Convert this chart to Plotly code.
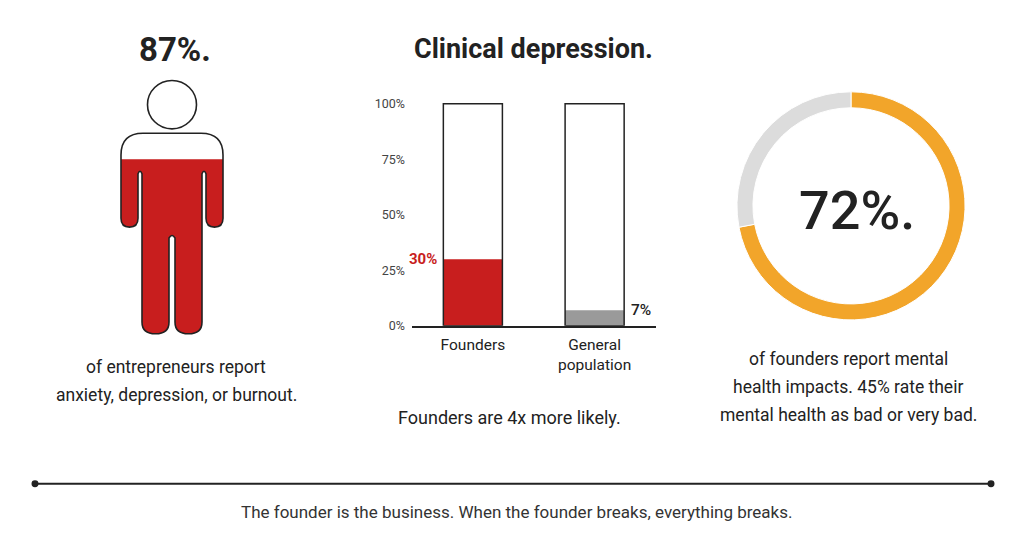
import plotly.graph_objects as go

# ---- data ----
person_pct = 87
bar_categories = ["Founders", "General<br>population"]
bar_values = [30, 7]
bar_value_labels = ["30%", "7%"]
bar_ticks = [0, 25, 50, 75, 100]
bar_tick_text = ["0%", "25%", "50%", "75%", "100%"]
donut_labels = ["Impacted", "Other"]
donut_values = [72, 28]

title_left = "87%."
title_mid = "Clinical depression."
donut_text = "72%."
caption_left = ["of entrepreneurs report", "anxiety, depression, or burnout."]
caption_mid = ["Founders are 4x more likely."]
caption_right = ["of founders report mental", "health impacts. 45% rate their", "mental health as bad or very bad."]
footer = "The founder is the business. When the founder breaks, everything breaks."

W, H = 1024, 555
RED = "#C81E1E"
GREY_BAR = "#9A9A9A"
ORANGE = "#F2A52A"
RING_GREY = "#DCDCDC"
INK = "#222222"
FONT = "Roboto"


def person_path(y_top, rounded):
    # silhouette in pixel coords (y grows downward)
    L, R, top, r = 121, 223, 135, 22
    armpit, hand, crotch, foot = 173, 230, 238, 338
    if rounded:
        p = f"M {L},{top + r} Q {L},{top} {L + r},{top} L {R - r},{top} Q {R},{top} {R},{top + r} "
    else:
        p = f"M {L},{y_top} L {R},{y_top} "
    p += (f"L {R},{hand - 9} Q {R},{hand} {R - 8.5},{hand} Q 206,{hand} 206,{hand - 9} "
          f"L 206,{armpit + 3} Q 204,{armpit - 2} 202,{armpit + 3} "
          f"L 202,{foot - 12} Q 202,{foot} 188.5,{foot} Q 175,{foot} 175,{foot - 12} "
          f"L 175,{crotch + 3} Q 172,{crotch - 2} 169,{crotch + 3} "
          f"L 169,{foot - 12} Q 169,{foot} 155.5,{foot} Q 142,{foot} 142,{foot - 12} "
          f"L 142,{armpit + 3} Q 140,{armpit - 2} 138,{armpit + 3} "
          f"L 138,{hand - 9} Q 138,{hand} 129.5,{hand} Q {L},{hand} {L},{hand - 9} Z")
    return p


fig = go.Figure()

# bar chart: value bars first, then the 100% outline boxes on top
fig.add_trace(go.Bar(x=bar_categories, y=bar_values, width=0.485,
                     marker=dict(color=[RED, GREY_BAR], line=dict(width=0)),
                     hoverinfo="skip", showlegend=False))
fig.add_trace(go.Bar(x=bar_categories, y=[100] * len(bar_categories), width=0.485,
                     marker=dict(color="rgba(0,0,0,0)", line=dict(color=INK, width=1.5)),
                     hoverinfo="skip", showlegend=False))

# donut
fig.add_trace(go.Pie(labels=donut_labels, values=donut_values, hole=0.86, sort=False,
                     direction="clockwise", rotation=0, textinfo="none",
                     marker=dict(colors=[ORANGE, RING_GREY], line=dict(color="white", width=1)),
                     domain=dict(x=[735.5 / W, 966.5 / W], y=[1 - 324 / H, 1 - 93 / H]),
                     showlegend=False, hoverinfo="skip"))

# the second (invisible) axis pair works in pixel units for the icon, rules and free text
fig.update_layout(
    xaxis=dict(domain=[412 / W, 655.5 / W], range=[-0.5, 1.5], showline=True, linecolor=INK,
               linewidth=1.5, showgrid=False, zeroline=False, ticks="", ticklabelstandoff=4,
               tickfont=dict(family=FONT, size=15.5, color=INK), fixedrange=True),
    yaxis=dict(domain=[1 - 330 / H, 1 - 96 / H], range=[0, 104], tickvals=bar_ticks,
               ticktext=bar_tick_text, showgrid=False, zeroline=False, showline=False,
               ticklabelstandoff=6, tickfont=dict(family=FONT, size=12.5, color="#444"),
               fixedrange=True),
    xaxis2=dict(domain=[0, 1], range=[0, W], visible=False, anchor="y2", fixedrange=True),
    yaxis2=dict(domain=[0, 1], range=[H, 0], visible=False, anchor="x2", fixedrange=True),
    barmode="overlay",
    width=W, height=H, autosize=False,
    margin=dict(l=0, r=0, t=0, b=0),
    paper_bgcolor="white", plot_bgcolor="rgba(0,0,0,0)",
    font=dict(family=FONT, color=INK),
)

# person icon filled to person_pct of the body height
body_top, body_bottom = 135, 338
fill_top = body_bottom - person_pct / 100 * (body_bottom - body_top)
fig.add_shape(type="path", xref="x2", yref="y2", path=person_path(fill_top, False),
              fillcolor=RED, line=dict(width=0))
fig.add_shape(type="path", xref="x2", yref="y2", path=person_path(body_top, True),
              fillcolor="rgba(0,0,0,0)", line=dict(color=INK, width=1.6))
fig.add_shape(type="circle", xref="x2", yref="y2", x0=172 - 24.5, x1=172 + 24.5,
              y0=106 - 24.5, y1=106 + 24.5, fillcolor="white", line=dict(color=INK, width=1.6))

# footer rule with end dots
fig.add_shape(type="line", xref="x2", yref="y2", x0=35, x1=991, y0=490, y1=490,
              line=dict(color=INK, width=2))
for cx in (35, 991):
    fig.add_shape(type="circle", xref="x2", yref="y2", x0=cx - 3.5, x1=cx + 3.5,
                  y0=490 - 3.5, y1=490 + 3.5, fillcolor=INK, line=dict(width=0))


def text(x, y, s, size, color=INK, weight="normal", ref="pixel", **kw):
    fig.add_annotation(x=x, y=y, text=s, showarrow=False,
                       xref="x2" if ref == "pixel" else "x",
                       yref="y2" if ref == "pixel" else "y",
                       font=dict(family=FONT, size=size, color=color, weight=weight), **kw)


text(175, 50, title_left, 33, weight="bold")
text(533, 50, title_mid, 27, weight="bold")
text(857, 213, donut_text, 54, weight=500)
for i, line in enumerate(caption_left):
    text(176, 372 + 28 * i, line, 17.5)
for i, line in enumerate(caption_mid):
    text(509, 423 + 28 * i, line, 18)
for i, line in enumerate(caption_right):
    text(848, 364 + 28 * i, line, 17.5)
text(516, 519, footer, 17, color="#333")

# bar value labels
text(-0.2425, bar_values[0], bar_value_labels[0], 15, color=RED, weight="bold", ref="data",
     xanchor="right", xshift=-4)
text(1.2425, bar_values[1], bar_value_labels[1], 15.5, weight=500, ref="data",
     xanchor="left", xshift=5)

# pin the figure to the window origin so nothing stretches the page
pin = ("var g=document.getElementById('{plot_id}');"
       "g.style.position='fixed';g.style.top='0';g.style.left='0';"
       "document.body.style.margin='0';document.body.style.overflow='hidden';"
       "document.documentElement.style.overflow='hidden';")
fig.write_html("out.html", config={"displayModeBar": False}, post_script=pin)
